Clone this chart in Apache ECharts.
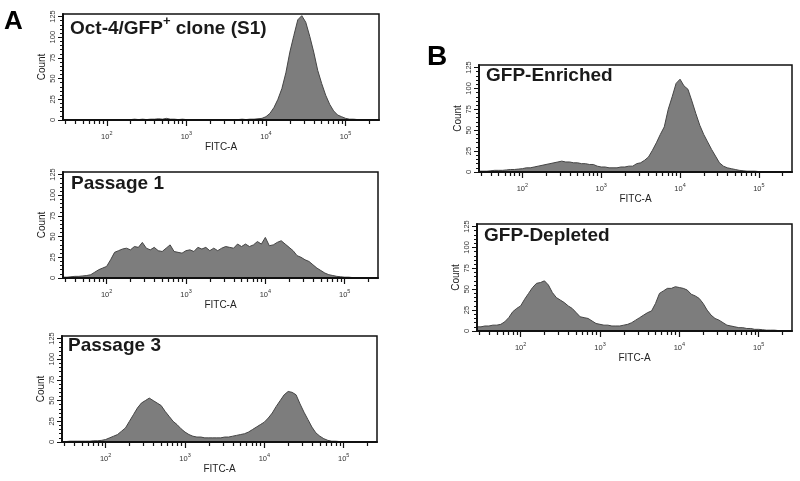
<!DOCTYPE html>
<html>
<head>
<meta charset="utf-8">
<script src="https://cdn.jsdelivr.net/npm/echarts@6/dist/echarts.min.js"></script>
<style>
html,body{margin:0;padding:0;background:#fff;}
#c{width:800px;height:481px;}
</style>
</head>
<body>
<div id="c"></div>
<script>
// log10(FITC-A) bin centres
var binsLog = [1.45,1.50,1.55,1.60,1.65,1.70,1.75,1.80,1.85,1.90,
  1.95,2.00,2.05,2.10,2.15,2.20,2.25,2.30,2.35,2.40,
  2.45,2.50,2.55,2.60,2.65,2.70,2.75,2.80,2.85,2.90,
  2.95,3.00,3.05,3.10,3.15,3.20,3.25,3.30,3.35,3.40,
  3.45,3.50,3.55,3.60,3.65,3.70,3.75,3.80,3.85,3.90,
  3.95,4.00,4.05,4.10,4.15,4.20,4.25,4.30,4.35,4.40,
  4.45,4.50,4.55,4.60,4.65,4.70,4.75,4.80,4.85,4.90,
  4.95,5.00,5.05,5.10,5.15,5.20,5.25,5.30,5.35,5.40];

var countS1 = [0,0,0,0,0,0,0,0,0,0,
  0,0,0,0,0,0,0,0.5,1,0.5,
  1,0.5,1,1,1.5,1,2,1,1,0.5,
  1,0.5,0,0.5,0,0,0.5,0,0,0.5,
  0,0.5,0,0.5,0.5,1,0.5,1,1,1.5,
  2,4,8,15,25,38,57,82,102,121,
  126,118,101,82,60,44,30,19,11,6,
  4,2,1,1,0.5,0,0.5,0,0,0];

var countP1 = [1,1,1.5,2,2,2.5,3,4,7,10,
  12,14,22,31,33,35,36,34,38,37,
  43,36,34,37,33,32,36,40,32,31,
  30,33,34,32,37,35,37,33,36,33,
  36,38,37,36,41,38,41,38,40,44,
  41,49,39,40,43,45,41,37,33,27,
  25,22,20,16,12,9,6,4,3,2,
  1.5,1,1,0.5,0.5,0.5,0,0,0,0];

var countP3 = [0.5,0.5,1,1,1,1,1,1,1.5,1.5,
  2,3,5,7,9,13,17,25,33,41,
  47,50,53,50,47,44,37,31,25,21,
  16,12,9,7,6,6,5,5,5,5,
  5,6,6,7,8,9,10,12,15,18,
  21,24,29,35,43,50,57,61,60,57,
  46,36,27,18,11,7,4,2,1,1,
  0.5,0.5,0,0,0,0,0,0,0,0];

var countEnr = [1,1,1,1.5,2,2,2,2.5,3,3,
  3.5,4,5,5,6,7,8,9,10,11,
  12,13,12,12,11,11,10,10,9,9,
  7,6,6,5,5,5,6,6,7,7,
  10,11,14,18,26,35,45,54,75,90,
  106,111,103,99,85,70,56,45,36,27,
  19,11,7,5,4,3,2,1.5,1,1,
  1,0.5,0.5,0.5,0,0,0,0,0,0];

var countDep = [5,5,6,6,7,7,8,11,16,23,
  27,30,38,45,52,57,58,60,55,46,
  40,37,34,30,27,22,17,16,15,12,
  9,8,7,7,6,6,6,7,8,10,
  13,16,19,22,24,33,45,48,51,51,
  53,52,51,49,44,42,39,33,25,19,
  15,13,10,7,6,5,4,4,3,3,
  2,2,1.5,1,1,1,0.5,0.5,0.5,0.5];

var panelTitles = ['Oct-4/GFP', 'Passage 1', 'Passage 3', 'GFP-Enriched', 'GFP-Depleted'];
var yTickLabels = [0,25,50,75,100,125];
var yMinorTicks = [0,5,10,15,20,25,30,35,40,45,50,55,60,65,70,75,80,85,90,95,100,105,110,115,120,125];
var xDecades = [2,3,4,5];
var xMinorRaw = [30,40,50,60,70,80,90,200,300,400,500,600,700,800,900,
  2000,3000,4000,5000,6000,7000,8000,9000,20000,30000,40000,50000,60000,70000,80000,90000,200000];

var FONT = "'Liberation Sans', Arial, Helvetica, sans-serif";
var grids = [
  {left:63, top:14, width:316, height:106},
  {left:63, top:172, width:315, height:106},
  {left:62, top:336, width:315, height:106},
  {left:479, top:65, width:313, height:107},
  {left:477, top:224, width:315, height:107}
];
var panelData = [countS1, countP1, countP3, countEnr, countDep];
var xMinor = xMinorRaw.map(function(v){return Math.log10(v);});

var option = {
  backgroundColor:'#fff',
  animation:false,
  grid:[], xAxis:[], yAxis:[], series:[], graphic:[]
};

grids.forEach(function(g, i){
  option.grid.push({left:g.left, top:g.top, width:g.width, height:g.height,
    show:true, borderColor:'#111', borderWidth:1.5, backgroundColor:'#fff', outerBoundsMode:'none'});
  // major x
  option.xAxis.push({gridIndex:i, type:'value', min:1.45, max:5.42, z:5, position:'bottom',
    axisLine:{onZero:false, lineStyle:{color:'#111', width:2}},
    splitLine:{show:false},
    axisTick:{inside:false, customValues:xDecades, length:6, lineStyle:{color:'#111', width:1.2}},
    axisLabel:{customValues:xDecades, margin:10, color:'#333',
      formatter:function(v){return '{b|10}{e|' + Math.round(v) + '}';},
      rich:{b:{fontSize:7.5, fontFamily:FONT, color:'#333', lineHeight:11, verticalAlign:'bottom'},
            e:{fontSize:5.5, fontFamily:FONT, color:'#333', lineHeight:11, verticalAlign:'top'}}},
    name:'FITC-A', nameLocation:'middle', nameGap:22,
    nameTextStyle:{fontSize:10, fontFamily:FONT, color:'#222'}
  });
  // minor x
  option.xAxis.push({gridIndex:i, type:'value', min:1.45, max:5.42, z:5, position:'bottom',
    axisLine:{show:false, onZero:false}, splitLine:{show:false},
    axisTick:{inside:false, customValues:xMinor, length:4, lineStyle:{color:'#111', width:1.2}},
    axisLabel:{show:false}
  });
  // major y
  option.yAxis.push({gridIndex:i, type:'value', min:0, max:128, position:'left', z:5,
    axisLine:{show:true, onZero:false, lineStyle:{color:'#111', width:2}},
    splitLine:{show:false},
    axisTick:{show:true, inside:false, customValues:yTickLabels, length:5, lineStyle:{color:'#111', width:1}},
    axisLabel:{customValues:yTickLabels, rotate:90, margin:6, fontSize:7.5, fontFamily:FONT, color:'#333'},
    name:'Count', nameLocation:'middle', nameGap:16, nameRotate:90,
    nameTextStyle:{fontSize:10, fontFamily:FONT, color:'#222'}
  });
  // minor y
  option.yAxis.push({gridIndex:i, type:'value', min:0, max:128, position:'left', z:5,
    axisLine:{show:false, onZero:false}, splitLine:{show:false},
    axisTick:{show:true, inside:false, customValues:yMinorTicks, length:3, lineStyle:{color:'#111', width:1}},
    axisLabel:{show:false}
  });
  option.series.push({
    type:'line', xAxisIndex:i*2, yAxisIndex:i*2, showSymbol:false, symbol:'none',
    data: binsLog.map(function(x, k){return [x, panelData[i][k]];}),
    lineStyle:{color:'#454545', width:1},
    areaStyle:{color:'#7d7d7d', opacity:1},
    z:2
  });
});

var titlePos = [[70,26.7],[71,186.5],[68,348],[486,78.3],[484,238]];
titlePos.forEach(function(p, i){
  var txt = i === 0 ? '{t|Oct-4/GFP}{s|+}{t| clone (S1)}' : '{t|' + panelTitles[i] + '}';
  option.graphic.push({type:'text', left:p[0], top:p[1]-12, z:10,
    style:{text:txt, fill:'#1a1a1a',
      rich:{t:{fontSize:19, fontWeight:'bold', fontFamily:FONT, fill:'#1a1a1a', lineHeight:24, verticalAlign:'bottom'},
            s:{fontSize:13, fontWeight:'bold', fontFamily:FONT, fill:'#1a1a1a', lineHeight:24, verticalAlign:'top'}}}});
});
option.graphic.push({type:'text', left:4, top:9, z:10,
  style:{text:'A', font:'bold 26px ' + FONT, fill:'#000'}});
option.graphic.push({type:'text', left:427, top:43, z:10,
  style:{text:'B', font:'bold 28px ' + FONT, fill:'#000'}});

var chart = echarts.init(document.getElementById('c'), null, {renderer:'canvas'});
chart.setOption(option);
</script>
</body>
</html>
